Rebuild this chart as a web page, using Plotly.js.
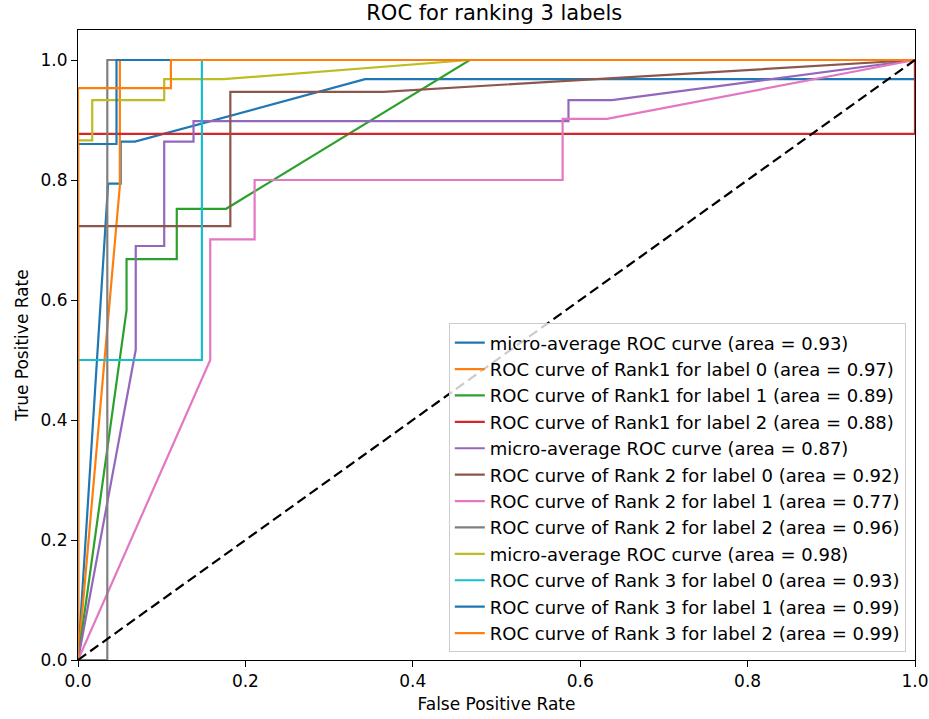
<!DOCTYPE html>
<html>
<head>
<meta charset="utf-8">
<script src="https://cdn.plot.ly/plotly-3.0.1.min.js"></script>
<style>html,body{margin:0;padding:0;background:#fff;}#chart{width:929px;height:719px;}</style>
</head>
<body>
<div id="chart"></div>
<script>
// Series data (false positive rate, true positive rate)
const micro1_fpr = [0, 0.036, 0.051, 0.051, 0.068, 0.343, 1, 1];
const micro1_tpr = [0, 0.794, 0.794, 0.864, 0.864, 0.968, 0.968, 1];
const r1l0_fpr = [0, 0.05, 0.05, 1];
const r1l0_tpr = [0, 0.79, 1, 1];
const r1l1_fpr = [0, 0.058, 0.058, 0.118, 0.118, 0.177, 0.468, 1];
const r1l1_tpr = [0, 0.583, 0.668, 0.668, 0.752, 0.752, 1, 1];
const r1l2_fpr = [0, 0, 1, 1];
const r1l2_tpr = [0, 0.877, 0.877, 1];
const micro2_fpr = [0, 0.069, 0.069, 0.103, 0.103, 0.138, 0.138, 0.586, 0.586, 0.638, 1];
const micro2_tpr = [0, 0.517, 0.69, 0.69, 0.864, 0.864, 0.898, 0.898, 0.933, 0.933, 1];
const r2l0_fpr = [0, 0, 0.182, 0.182, 0.365, 1];
const r2l0_tpr = [0, 0.723, 0.723, 0.947, 0.947, 1];
const r2l1_fpr = [0, 0.158, 0.158, 0.211, 0.211, 0.579, 0.579, 0.632, 1];
const r2l1_tpr = [0, 0.5, 0.701, 0.701, 0.8, 0.8, 0.902, 0.902, 1];
const r2l2_fpr = [0, 0.035, 0.035, 1];
const r2l2_tpr = [0, 0, 1, 1];
const micro3_fpr = [0, 0, 0.017, 0.017, 0.103, 0.103, 0.174, 0.468, 1];
const micro3_tpr = [0, 0.866, 0.866, 0.933, 0.933, 0.968, 0.968, 1, 1];
const r3l0_fpr = [0, 0, 0.148, 0.148, 1];
const r3l0_tpr = [0, 0.5, 0.5, 1, 1];
const r3l1_fpr = [0, 0, 0.046, 0.046, 1];
const r3l1_tpr = [0, 0.86, 0.86, 1, 1];
const r3l2_fpr = [0, 0, 0.111, 0.111, 1];
const r3l2_tpr = [0, 0.953, 0.953, 1, 1];
const chance_x = [0, 1];
const chance_y = [0, 1];

const labels = [
  'micro-average ROC curve (area = 0.93)',
  'ROC curve of Rank1 for label 0 (area = 0.97)',
  'ROC curve of Rank1 for label 1 (area = 0.89)',
  'ROC curve of Rank1 for label 2 (area = 0.88)',
  'micro-average ROC curve (area = 0.87)',
  'ROC curve of Rank 2 for label 0 (area = 0.92)',
  'ROC curve of Rank 2 for label 1 (area = 0.77)',
  'ROC curve of Rank 2 for label 2 (area = 0.96)',
  'micro-average ROC curve (area = 0.98)',
  'ROC curve of Rank 3 for label 0 (area = 0.93)',
  'ROC curve of Rank 3 for label 1 (area = 0.99)',
  'ROC curve of Rank 3 for label 2 (area = 0.99)'
];
const colors = ['#1f77b4','#ff7f0e','#2ca02c','#d62728','#9467bd','#8c564b','#e377c2','#7f7f7f','#bcbd22','#17becf','#1f77b4','#ff7f0e'];
const series = [
  [micro1_fpr, micro1_tpr], [r1l0_fpr, r1l0_tpr], [r1l1_fpr, r1l1_tpr], [r1l2_fpr, r1l2_tpr],
  [micro2_fpr, micro2_tpr], [r2l0_fpr, r2l0_tpr], [r2l1_fpr, r2l1_tpr], [r2l2_fpr, r2l2_tpr],
  [micro3_fpr, micro3_tpr], [r3l0_fpr, r3l0_tpr], [r3l1_fpr, r3l1_tpr], [r3l2_fpr, r3l2_tpr]
];

const traces = series.map((s, i) => ({
  type: 'scatter', mode: 'lines', x: s[0], y: s[1], name: labels[i],
  legendgroup: 'g' + i,
  line: {color: colors[i], width: 2.2}
}));
traces.push({
  type: 'scatter', mode: 'lines', x: chance_x, y: chance_y, showlegend: false,
  line: {color: '#000000', width: 2.2, dash: '10px,5px'}, hoverinfo: 'skip'
});

const font = 'DejaVu Sans, sans-serif';
const layout = {
  width: 929, height: 719,
  margin: {l: 78, r: 14, t: 30, b: 59},
  paper_bgcolor: '#ffffff', plot_bgcolor: '#ffffff',
  font: {family: font, color: '#000000', size: 17},
  title: {text: 'ROC for ranking 3 labels', font: {family: font, size: 21, color: '#000'},
          x: 0.532, xanchor: 'center', y: 0.982, yanchor: 'middle', yref: 'container'},
  xaxis: {
    range: [0, 1], dtick: 0.2, tick0: 0, tickformat: '.1f',
    showgrid: false, zeroline: false,
    showline: true, mirror: true, linecolor: '#000', linewidth: 1,
    ticks: 'outside', ticklen: 6, tickwidth: 1, tickcolor: '#000',
    tickfont: {family: font, size: 17},
    title: {text: 'False Positive Rate', font: {family: font, size: 17}, standoff: 7},
    automargin: false
  },
  yaxis: {
    range: [0, 1.05], dtick: 0.2, tick0: 0, tickformat: '.1f',
    showgrid: false, zeroline: false,
    showline: true, mirror: true, linecolor: '#000', linewidth: 1,
    ticks: 'outside', ticklen: 6, tickwidth: 1, tickcolor: '#000',
    tickfont: {family: font, size: 17},
    title: {text: 'True Positive Rate', font: {family: font, size: 17}, standoff: 7},
    automargin: false
  },
  showlegend: true,
  legend: {
    x: 0.989, xanchor: 'right', y: 0.012, yanchor: 'bottom',
    bgcolor: 'rgba(255,255,255,0.8)', bordercolor: '#cccccc', borderwidth: 1,
    font: {family: font, size: 18, color: '#000'},
    tracegroupgap: 5, traceorder: 'normal'
  }
};

Plotly.newPlot('chart', traces, layout, {displayModeBar: false, staticPlot: true});
</script>
</body>
</html>
